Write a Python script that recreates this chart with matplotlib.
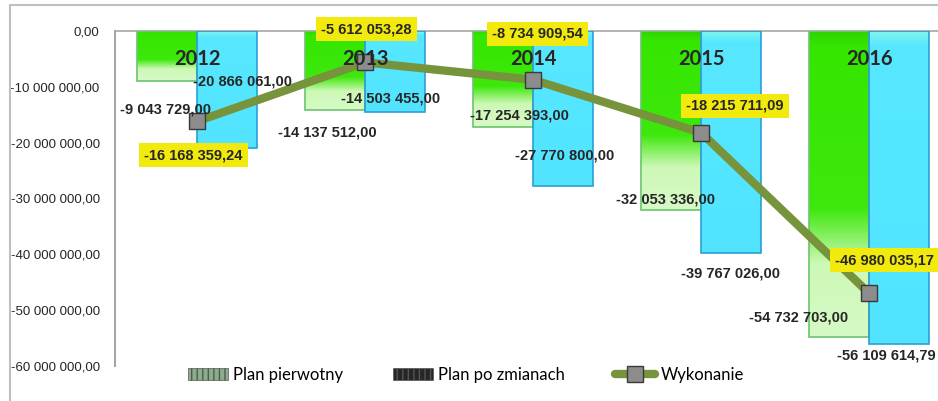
import numpy as np
import matplotlib
matplotlib.use("Agg")
import matplotlib.pyplot as plt
from matplotlib.colors import LinearSegmentedColormap
from matplotlib.patches import Rectangle, Patch
from matplotlib.lines import Line2D
from matplotlib import font_manager

# Data
years = ["2012", "2013", "2014", "2015", "2016"]
plan_pierwotny = [-9043729.00, -14137512.00, -17254393.00, -32053336.00, -54732703.00]
plan_po_zmianach = [-20866061.00, -14503455.00, -27770800.00, -39767026.00, -56109614.79]
wykonanie = [-16168359.24, -5612053.28, -8734909.54, -18215711.09, -46980035.17]
yticks = [0, -10e6, -20e6, -30e6, -40e6, -50e6, -60e6]

# label offsets in pixels (dx, dy with y up)
off_green = [(-2, -28), (-8, -23), (16, 12), (-6, 10), (-41, 19)]
off_cyan = [(15, 66), (-5, 13), (1, 31), (-1, -20), (-13, -11)]
off_line = [(-4, -34), (1, 33), (4, 46), (34, 27), (15, 33)]


def pick(names):
    for n in names:
        try:
            font_manager.findfont(n, fallback_to_default=False)
            return n
        except Exception:
            pass
    return "DejaVu Sans"


narrow = pick(["Liberation Sans Narrow", "Liberation Sans"])
regular = pick(["Liberation Sans", "DejaVu Sans"])
calib = pick(["Lato", "Open Sans", "DejaVu Sans"])


def fmt(v):
    return f"{v:,.2f}".replace(",", " ").replace(".", ",")


fig = plt.figure(figsize=(9.38, 4.01), dpi=100)
ax = fig.add_axes([115 / 938, 1 - 366 / 401, 1 - 115 / 938, 335 / 401])

# outer frame
fig.patches.append(Rectangle((10 / 938, -0.1), 1.2, 1.1 - 5 / 401, transform=fig.transFigure,
                             fill=False, edgecolor="#bfbfbf", lw=1.5, zorder=0))

x = np.arange(len(years))
w = 0.357
d = 0.179

green_cmap = LinearSegmentedColormap.from_list(
    "g", [(0, "#2fd400"), (0.05, "#35e600"), (0.58, "#3ee80c"), (0.76, "#cdf8b6"), (1, "#d6fac6")])
cyan_cmap = LinearSegmentedColormap.from_list(
    "c", [(0, "#82f5ee"), (0.05, "#57e8ff"), (1, "#52e4ff")])
grad = np.linspace(0, 1, 256).reshape(-1, 1)


def grad_bars(xs, vals, cmap, edge):
    bars = ax.bar(xs, vals, w, facecolor="none", edgecolor=edge, lw=1.2, zorder=3)
    for b, v in zip(bars, vals):
        x0 = b.get_x()
        im = ax.imshow(grad, cmap=cmap, aspect="auto", origin="upper",
                       extent=[x0, x0 + w, v, 0], zorder=2)
        im.set_clip_path(b)
    return bars


gb = grad_bars(x - d, plan_pierwotny, green_cmap, "#6cc46c")
cb = grad_bars(x + d, plan_po_zmianach, cyan_cmap, "#2a9fd6")

ax.plot(x, wykonanie, color="#77933c", lw=6, solid_capstyle="butt", zorder=4,
        marker="s", markersize=11, markerfacecolor="#8c8c8c", markeredgecolor="#3a3a3a")

lab_font = dict(family=[narrow, "DejaVu Sans"], fontsize=10.5, fontweight="bold", color="#262626")
for i in range(len(years)):
    ax.annotate(fmt(plan_pierwotny[i]), (x[i] - d, plan_pierwotny[i]), xytext=off_green[i],
                textcoords="offset pixels", ha="center", va="center", zorder=6, **lab_font)
    ax.annotate(fmt(plan_po_zmianach[i]), (x[i] + d, plan_po_zmianach[i]), xytext=off_cyan[i],
                textcoords="offset pixels", ha="center", va="center", zorder=6,
                annotation_clip=False, **lab_font)
    ax.annotate(fmt(wykonanie[i]), (x[i], wykonanie[i]), xytext=off_line[i],
                textcoords="offset pixels", ha="center", va="center", zorder=7,
                annotation_clip=False,
                bbox=dict(boxstyle="square,pad=0.35", facecolor="#f2ea0c", edgecolor="none"),
                **lab_font)
    ax.text(x[i], 0.916, years[i], transform=ax.get_xaxis_transform(), ha="center", va="center",
            family=[calib, "DejaVu Sans"], fontsize=14.5, fontweight="bold", color="#262626", zorder=6)

ax.set_xlim(-0.49, 4.41)
ax.set_ylim(-60e6, 0)
ax.set_yticks(yticks)
ax.set_yticklabels([fmt(v) for v in yticks], family=[regular, "DejaVu Sans"], fontsize=9.5, color="#262626")
ax.tick_params(axis="y", length=0, pad=11)
ax.set_xticks([])
for s in ["right", "bottom"]:
    ax.spines[s].set_visible(False)
ax.spines["left"].set_color("#a6a6a6")
ax.spines["left"].set_linewidth(1.5)
ax.spines["top"].set_color("#a6a6a6")
ax.spines["top"].set_linewidth(1.2)

handles = [
    Patch(facecolor="#8aae8a", edgecolor="#555555", hatch="|||", lw=0.5),
    Patch(facecolor="#262626", edgecolor="#555555", hatch="|||", lw=0.5),
    Line2D([], [], color="#77933c", lw=6, solid_capstyle="round", marker="s", markersize=11,
           markerfacecolor="#8c8c8c", markeredgecolor="#3a3a3a"),
]
fig.legend(handles, ["Plan pierwotny", "Plan po zmianach", "Wykonanie"], loc="center",
           bbox_to_anchor=(466 / 938, 1 - 375 / 401), ncol=3, frameon=False,
           prop=dict(family=[calib, "DejaVu Sans"], size=12), handlelength=2.4,
           columnspacing=3.0, handletextpad=0.3)

fig.savefig("out.png", dpi=100)
